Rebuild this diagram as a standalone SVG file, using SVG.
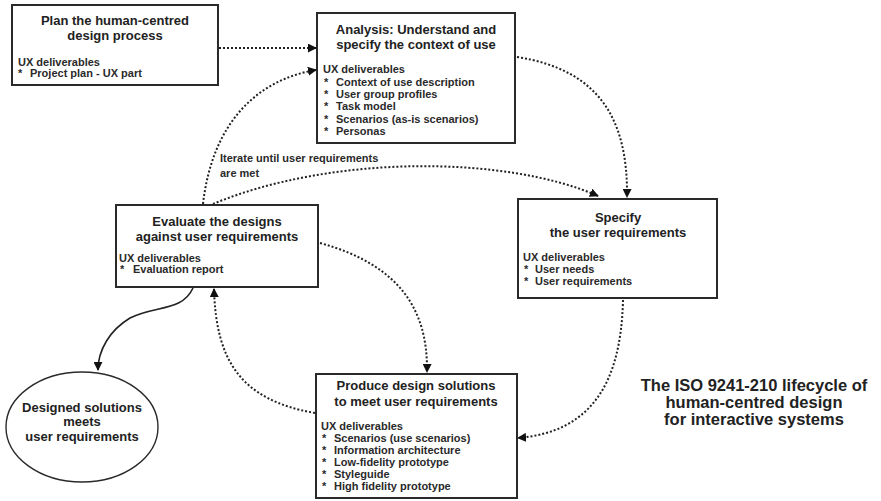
<svg xmlns="http://www.w3.org/2000/svg" width="881" height="501" viewBox="0 0 881 501">
<style>
.box{fill:#fff;stroke:#2a2a2a;stroke-width:2}
.t{font-family:"Liberation Sans",Arial,sans-serif;font-weight:bold;font-size:13px;fill:#222;text-anchor:middle}
.b{font-family:"Liberation Sans",Arial,sans-serif;font-weight:bold;font-size:11px;fill:#2a2a2a}
.cap{font-family:"Liberation Sans",Arial,sans-serif;font-weight:bold;font-size:16.5px;fill:#222;text-anchor:middle}
.dot{fill:none;stroke:#222;stroke-width:2;stroke-dasharray:2 2}
.sol{fill:none;stroke:#222;stroke-width:1.6}
</style>
<defs>
<marker id="ah" viewBox="0 0 10 10" refX="9" refY="5" markerWidth="9" markerHeight="9" markerUnits="userSpaceOnUse" orient="auto">
<path d="M0,0 L10,5 L0,10 z" fill="#111"/>
</marker>
</defs>
<rect width="881" height="501" fill="#fff"/>
<g id="connectors">
<path class="dot" d="M219,48 L316,48" marker-end="url(#ah)"/>
<path class="dot" d="M203,204 C212,125 255,80 316,70" marker-end="url(#ah)"/>
<path class="dot" d="M213,204 C330,155 505,155 598,196" marker-end="url(#ah)"/>
<path class="dot" d="M517,57 C600,70 628,120 627,197" marker-end="url(#ah)"/>
<path class="dot" d="M623,300 C621,385 590,432 518,438" marker-end="url(#ah)"/>
<path class="dot" d="M320,243 C400,265 428,310 427,372" marker-end="url(#ah)"/>
<path class="dot" d="M315,413 C240,400 216,360 214,289" marker-end="url(#ah)"/>
<path class="sol" d="M193,288 C182,312 155,305 130,318 C110,330 98,350 98,370" marker-end="url(#ah)"/>
</g>
<g id="iterate-label">
<text class="b" x="220" y="162">Iterate until user requirements</text>
<text class="b" x="220" y="177">are met</text>
</g>
<g id="plan">
<rect class="box" x="12" y="5" width="206" height="80"/>
<text class="t" x="115" y="25">Plan the human-centred</text>
<text class="t" x="115" y="40">design process</text>
<text class="b" x="18" y="66">UX deliverables</text>
<text class="b" x="18" y="77">*</text><text class="b" x="30" y="77">Project plan - UX part</text>
</g>
<g id="analysis">
<rect class="box" x="317" y="13" width="198" height="130"/>
<text class="t" x="416" y="34">Analysis: Understand and</text>
<text class="t" x="416" y="49">specify the context of use</text>
<text class="b" x="323" y="73">UX deliverables</text>
<text class="b" x="324" y="85.5">*</text><text class="b" x="336" y="85.5">Context of use description</text>
<text class="b" x="324" y="98">*</text><text class="b" x="336" y="98">User group profiles</text>
<text class="b" x="324" y="110">*</text><text class="b" x="336" y="110">Task model</text>
<text class="b" x="324" y="122.5">*</text><text class="b" x="336" y="122.5">Scenarios (as-is scenarios)</text>
<text class="b" x="324" y="135">*</text><text class="b" x="336" y="135">Personas</text>
</g>
<g id="specify">
<rect class="box" x="518" y="199" width="199" height="99"/>
<text class="t" x="618" y="222">Specify</text>
<text class="t" x="618" y="237">the user requirements</text>
<text class="b" x="523" y="261">UX deliverables</text>
<text class="b" x="524" y="273">*</text><text class="b" x="535" y="273">User needs</text>
<text class="b" x="524" y="285">*</text><text class="b" x="535" y="285">User requirements</text>
</g>
<g id="evaluate">
<rect class="box" x="116" y="205" width="202" height="82"/>
<text class="t" x="217" y="226">Evaluate the designs</text>
<text class="t" x="217" y="241">against user requirements</text>
<text class="b" x="119" y="262">UX deliverables</text>
<text class="b" x="120" y="273">*</text><text class="b" x="133" y="273">Evaluation report</text>
</g>
<g id="produce">
<rect class="box" x="316" y="374" width="201" height="124"/>
<text class="t" x="416" y="390">Produce design solutions</text>
<text class="t" x="416" y="406">to meet user requirements</text>
<text class="b" x="321" y="430">UX deliverables</text>
<text class="b" x="322" y="442">*</text><text class="b" x="334" y="442">Scenarios (use scenarios)</text>
<text class="b" x="322" y="454">*</text><text class="b" x="334" y="454">Information architecture</text>
<text class="b" x="322" y="466">*</text><text class="b" x="334" y="466">Low-fidelity prototype</text>
<text class="b" x="322" y="478">*</text><text class="b" x="334" y="478">Styleguide</text>
<text class="b" x="322" y="490">*</text><text class="b" x="334" y="490">High fidelity prototype</text>
</g>
<g id="designed">
<ellipse cx="82" cy="427" rx="76" ry="55" fill="#fff" stroke="#2a2a2a" stroke-width="1.4"/>
<text class="t" x="82" y="412">Designed solutions</text>
<text class="t" x="82" y="426">meets</text>
<text class="t" x="82" y="441">user requirements</text>
</g>
<g id="caption">
<text class="cap" x="754" y="391">The ISO 9241-210 lifecycle of</text>
<text class="cap" x="754" y="408">human-centred design</text>
<text class="cap" x="754" y="425">for interactive systems</text>
</g>
</svg>
